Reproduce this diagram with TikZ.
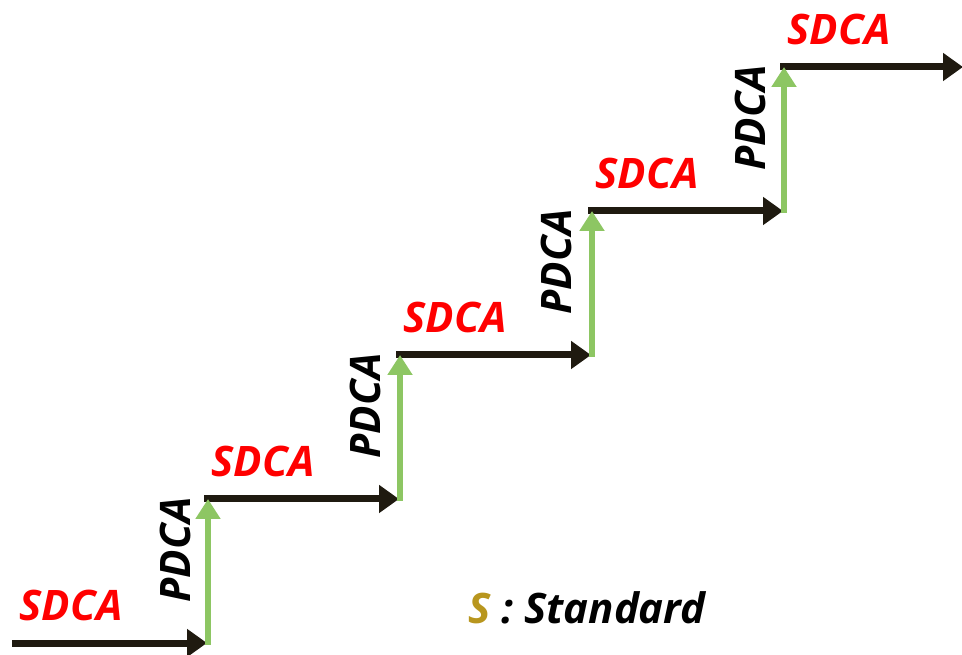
\documentclass[tikz,border=0pt]{standalone}
\usepackage{fontspec}
\setmainfont{Open Sans}
\usetikzlibrary{arrows.meta}
\definecolor{stepblack}{HTML}{1F1A10}
\definecolor{stepgreen}{HTML}{8DC663}
\definecolor{sred}{HTML}{FF0000}
\definecolor{sgold}{HTML}{B8961E}
\tikzset{
  hstep/.style={draw=stepblack, line width=7pt, -{Triangle[length=20pt,width=27pt]}},
  vstep/.style={draw=stepgreen, line width=6pt, -{Triangle[length=20pt,width=24pt]}},
  slabel/.style={text=sred, font=\fontsize{42}{46}\selectfont\bfseries\itshape, inner sep=0pt},
  plabel/.style={text=black, font=\fontsize{42}{46}\selectfont\bfseries\itshape, inner sep=0pt, rotate=90},
}
\begin{document}
\begin{tikzpicture}[x=1pt,y=1pt]
\useasboundingbox (0,0) rectangle (962,654);
% corners
\coordinate (a0) at (12,11);
\coordinate (b0) at (207,11);
\coordinate (g0) at (208,9);
\coordinate (t0) at (208,155);
\coordinate (a1) at (204,155);
\coordinate (b1) at (399,155);
\coordinate (g1) at (400,153);
\coordinate (t1) at (400,299);
\coordinate (a2) at (396,299);
\coordinate (b2) at (591,299);
\coordinate (g2) at (592,297);
\coordinate (t2) at (592,443);
\coordinate (a3) at (588,443);
\coordinate (b3) at (783,443);
\coordinate (g3) at (784,441);
\coordinate (t3) at (784,587);
\coordinate (a4) at (780,587);
\coordinate (b4) at (963,587);

\draw[hstep] (a0) -- (b0);
\draw[hstep] (a1) -- (b1);
\draw[hstep] (a2) -- (b2);
\draw[hstep] (a3) -- (b3);
\draw[hstep] (a4) -- (b4);
\draw[vstep] (g0) -- (t0);
\draw[vstep] (g1) -- (t1);
\draw[vstep] (g2) -- (t2);
\draw[vstep] (g3) -- (t3);

\node[slabel] (s0) at (71,49) {SDCA};
\node[slabel] (s1) at (263,193) {SDCA};
\node[slabel] (s2) at (455,337) {SDCA};
\node[slabel] (s3) at (647,481) {SDCA};
\node[slabel] (s4) at (839,625) {SDCA};

\node[plabel] (p0) at (175,104) {PDCA};
\node[plabel] (p1) at (365,248) {PDCA};
\node[plabel] (p2) at (556,392) {PDCA};
\node[plabel] (p3) at (750,536) {PDCA};

\node[font=\fontsize{42}{46}\selectfont\bfseries\itshape, inner sep=0pt, anchor=west] (legend) at (468,46) {\textcolor{sgold}{S} : Standard};
\end{tikzpicture}
\end{document}
